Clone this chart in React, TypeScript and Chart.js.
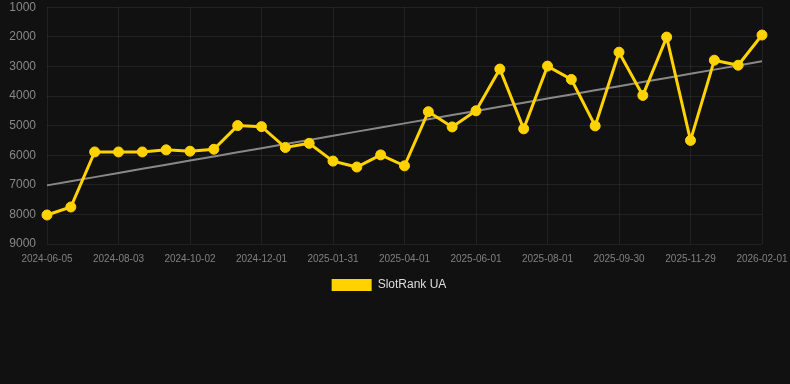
import React, { useEffect, useRef } from "react";
import { Chart, registerables } from "chart.js";

Chart.register(...registerables);

const dates: string[] = [
  "2024-06-05", "2024-06-25", "2024-07-14", "2024-08-03", "2024-08-23", "2024-09-12",
  "2024-10-02", "2024-10-22", "2024-11-11", "2024-12-01", "2024-12-21", "2025-01-10",
  "2025-01-31", "2025-02-20", "2025-03-12", "2025-04-01", "2025-04-21", "2025-05-11",
  "2025-06-01", "2025-06-21", "2025-07-11", "2025-08-01", "2025-08-21", "2025-09-10",
  "2025-09-30", "2025-10-20", "2025-11-09", "2025-11-29", "2025-12-20", "2026-01-10",
  "2026-02-01",
];

const rankValues: number[] = [
  8020, 7750, 5890, 5890, 5890, 5820, 5865, 5800, 5000, 5035, 5740, 5600, 6200, 6400,
  5990, 6360, 4530, 5045, 4500, 3090, 5110, 2990, 3440, 5010, 2520, 3980, 2010, 5500,
  2790, 2960, 1940,
];

const seriesLabel = "SlotRank UA";
const yMin = 1000;
const yMax = 9000;
const yStep = 1000;

function trend(values: number[]): number[] {
  const n = values.length;
  const mx = (n - 1) / 2;
  const my = values.reduce((a, b) => a + b, 0) / n;
  let num = 0;
  let den = 0;
  values.forEach((v, i) => {
    num += (i - mx) * (v - my);
    den += (i - mx) * (i - mx);
  });
  const slope = num / den;
  return values.map((_, i) => my + slope * (i - mx));
}

export default function App() {
  const ref = useRef<HTMLCanvasElement | null>(null);

  useEffect(() => {
    document.body.style.margin = "0";
    document.body.style.background = "#111111";
    if (!ref.current) return;
    Chart.defaults.font.family = 'Arial, "Liberation Sans", Helvetica, sans-serif';
    const yellow = "#FFD200";
    const grid = "rgba(255,255,255,0.07)";
    const chart = new Chart(ref.current, {
      type: "line",
      data: {
        labels: dates,
        datasets: [
          {
            label: seriesLabel,
            data: rankValues,
            borderColor: yellow,
            backgroundColor: yellow,
            borderWidth: 3,
            pointRadius: 5,
            pointBackgroundColor: yellow,
            pointBorderColor: yellow,
            pointBorderWidth: 1,
            tension: 0,
            order: 1,
          },
          {
            label: "trend",
            data: trend(rankValues),
            borderColor: "rgba(150,150,150,0.9)",
            backgroundColor: "rgba(150,150,150,0.9)",
            borderWidth: 2,
            pointRadius: 0,
            tension: 0,
            order: 2,
          },
        ],
      },
      options: {
        animation: false,
        responsive: true,
        maintainAspectRatio: false,
        layout: { padding: { left: 0, right: 12, top: 0, bottom: 0 } },
        plugins: {
          tooltip: { enabled: false },
          legend: {
            position: "bottom",
            labels: {
              color: "#dddddd",
              font: { size: 12 },
              boxWidth: 40,
              boxHeight: 12,
              padding: 14,
              generateLabels: (c: any) =>
                Chart.defaults.plugins.legend.labels
                  .generateLabels(c)
                  .filter((item: any) => item.text === seriesLabel)
                  .map((item: any) => ({ ...item, lineWidth: 0 })),
            },
          },
        },
        scales: {
          x: {
            afterFit: (scale: any) => {
              scale.paddingRight = 28;
            },
            grid: {
              color: grid,
              drawTicks: true,
              tickLength: 9,
              tickColor: "transparent",
            },
            border: { display: false },
            ticks: {
              autoSkip: false,
              maxRotation: 0,
              color: "#808080",
              font: { size: 10 },
              padding: 0,
              callback: (_v, i) => (i % 3 === 0 ? dates[i] : null),
            },
          },
          y: {
            reverse: true,
            min: yMin,
            max: yMax,
            afterFit: (scale: any) => {
              scale.width = 47;
            },
            grid: {
              color: grid,
              drawTicks: true,
              tickLength: 11,
              tickColor: "transparent",
            },
            border: { display: false },
            ticks: {
              stepSize: yStep,
              color: "#888888",
              font: { size: 12 },
              padding: 0,
              callback: (v) => String(v),
            },
          },
        },
      },
    });
    return () => chart.destroy();
  }, []);

  return (
    <div style={{ width: 790, height: 384, background: "#111111" }}>
      <div style={{ position: "relative", width: 790, height: 301 }}>
        <canvas ref={ref} />
      </div>
    </div>
  );
}
